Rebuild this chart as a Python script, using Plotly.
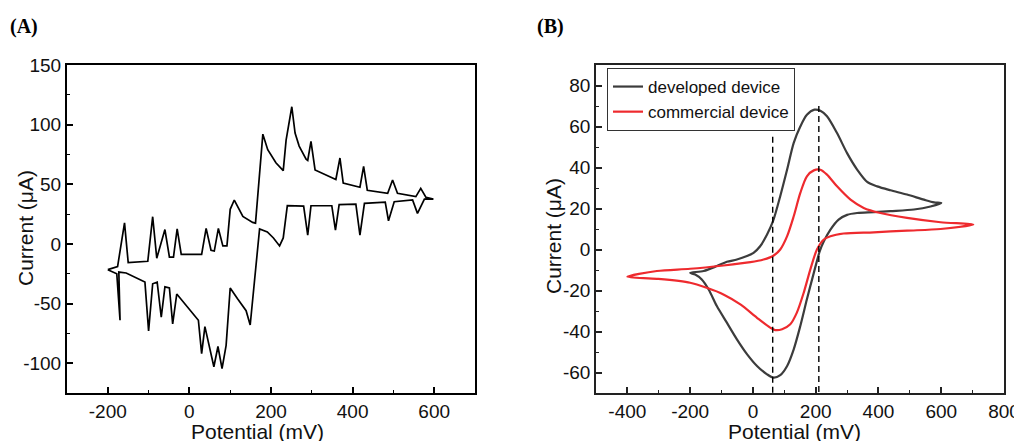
import plotly.graph_objects as go

# ---------------- Panel A data ----------------
a_potential = [-200, -176, -159, -150, -102, -90, -80, -60, -49, -39, -30, -20, 30, 41, 53, 61, 71, 82, 92,
               100, 110, 131, 155, 162, 180, 192, 212, 230, 237, 251, 259, 269, 286, 290, 298, 308, 359, 369,
               377, 418, 427, 436, 486, 498, 510, 555, 567, 580, 598,
               576, 559, 547, 502, 488, 480, 429, 418, 408, 367, 358, 349, 298, 290, 280, 240, 230, 221, 206,
               191, 172, 149, 139, 118, 100, 90, 80, 70, 60, 38, 30, 22, 16, 0, -16, -31, -41, -49, -60, -69,
               -79, -90, -100, -109, -155, -173, -170, -178, -200]
a_current = [-21.6, -19, 17.7, -15.7, -14.6, 22.8, -12, 12, -11, -11, 12.6, -8.7, -8.7, 13, -5.3, -6, 13, -1.7, -1.7,
             29, 36.8, 23, 18, 17.4, 92, 79, 68, 61.5, 87, 115, 93, 82, 71, 70, 86, 62, 54, 72,
             51, 47.5, 65, 45, 42.4, 53.6, 42.4, 39.6, 46.6, 39, 37.6,
             37.6, 25.6, 36.8, 35.4, 19.4, 35, 34, 7.3, 33.4, 33, 11.5, 32, 32, 7.3, 31.7, 32, 5, -1.7, 5,
             10, 12.6, -68, -56, -46, -37, -85, -104.5, -86, -103, -69.4, -92, -64, -61.5, -55, -49, -42, -67,
             -37, -36, -61.5, -32, -33.4, -73, -32, -24.4, -23.6, -64, -25, -21.6]

a_xticks = [-200, 0, 200, 400, 600]
a_xticklabels = ["-200", "0", "200", "400", "600"]
a_yticks = [-100, -50, 0, 50, 100, 150]
a_yticklabels = ["-100", "-50", "0", "50", "100", "150"]

# ---------------- Panel B data ----------------
dev_potential = [-200, -157, -115, -83, -51, -19, 2, 23, 45, 64, 87, 109, 130, 151, 172, 196, 215, 236, 268, 300,
                 332, 364, 396, 438, 491, 545, 577, 600,
                 566, 513, 438, 385, 332, 300, 273, 247, 226, 213, 194, 172, 151, 130, 109, 87, 66, 45, 13, -19,
                 -51, -83, -115, -141, -163, -184, -200]
dev_current = [-11.4, -10.5, -8.1, -6, -4.9, -3.2, -1.6, 1.6, 7.3, 13.8, 26, 39, 52, 60, 65.7, 68.2, 67.7, 65, 56.8,
               47, 39, 33, 30.8, 28.9, 26.8, 24.3, 23, 22.7,
               21, 19.5, 18.7, 18.2, 17.8, 16.9, 14.6, 9.7, 4, -0.8, -11.4, -24.3, -37.3, -48.7, -56.8, -61.3,
               -62.5, -60.9, -56.8, -51, -43.8, -35.7, -27.6, -19.5, -14.6, -12.2, -11.4]

com_potential = [-400, -306, -200, -94, -8, 34, 64, 87, 109, 130, 151, 172, 194, 215, 236, 268, 311, 353, 406,
                 491, 598, 702,
                 598, 491, 385, 289, 247, 226, 204, 183, 162, 140, 119, 93, 71, 55, 13, -40, -94, -147, -200,
                 -306, -400]
com_current = [-13.3, -10.5, -9.4, -7.8, -6.2, -4.9, -3.2, 0, 6.5, 16.2, 27.6, 35.7, 38.6, 38.9, 36.5, 30.8, 24.3,
               20.3, 17.8, 15.4, 13.3, 12.2,
               10, 9.2, 8.4, 7.8, 6.5, 4.9, 0, -9.7, -21, -30.8, -36.5, -38.9, -39.3, -38.1, -33.3, -26.8, -21.9,
               -18.7, -16.2, -14.3, -13.3]

peak_potentials = [63, 210]
peak_line_tops = [55, 70]
b_y_bottom = -70

b_xticks = [-400, -200, 0, 200, 400, 600, 800]
b_xticklabels = ["-400", "-200", "0", "200", "400", "600", "800"]
b_yticks = [-60, -40, -20, 0, 20, 40, 60, 80]
b_yticklabels = ["-60", "-40", "-20", "0", "20", "40", "60", "80"]

# page is drawn with an 8px body margin; place everything in reference pixel coordinates
W, H, OFF = 1022, 441, 8
def fx(px):
    return (px - OFF) / W
def fy(py):
    return 1 - (py - OFF) / H

fig = go.Figure()

fig.add_trace(go.Scatter(x=a_potential, y=a_current, mode="lines", line=dict(color="black", width=1.7),
                         showlegend=False, xaxis="x", yaxis="y"))

fig.add_trace(go.Scatter(x=dev_potential, y=dev_current, mode="lines", name="developed device",
                         line=dict(color="#3c3c3c", width=2.2, shape="spline", smoothing=0.8),
                         xaxis="x2", yaxis="y2"))
fig.add_trace(go.Scatter(x=com_potential, y=com_current, mode="lines", name="commercial device",
                         line=dict(color="#ee2a2e", width=2.2, shape="spline", smoothing=0.8),
                         xaxis="x2", yaxis="y2"))
for px, top in zip(peak_potentials, peak_line_tops):
    fig.add_trace(go.Scatter(x=[px, px], y=[top, b_y_bottom], mode="lines", showlegend=False,
                             line=dict(color="black", width=1.4, dash="6px,4px"),
                             xaxis="x2", yaxis="y2"))

FONT = "Liberation Sans, Arial"
tickfont = dict(family=FONT, size=19, color="#111")
titlefont = dict(family=FONT, size=21, color="#111")

def ax(domain, rng, tickvals, ticktext, minor_dtick, anchor, linecolor, lw):
    return dict(domain=domain, range=rng, tickmode="array", tickvals=tickvals, ticktext=ticktext,
                showgrid=False, zeroline=False,
                showline=True, mirror=True, linecolor=linecolor, linewidth=lw,
                ticks="inside", ticklen=6, tickwidth=1.5, tickcolor=linecolor,
                minor=dict(ticks="inside", ticklen=3, tickwidth=1.2, dtick=minor_dtick, tick0=0,
                           tickcolor=linecolor, showgrid=False),
                tickfont=tickfont, anchor=anchor, automargin=False)

ydom = [fy(393), fy(65)]
fig.update_layout(
    template="none",
    width=W, height=H,
    margin=dict(l=0, r=0, t=0, b=0),
    paper_bgcolor="white", plot_bgcolor="white",
    xaxis=ax([fx(67), fx(475)], [-300, 700], a_xticks, a_xticklabels, 100, "y", "black", 2),
    yaxis=ax(ydom, [-125, 150], a_yticks, a_yticklabels, 25, "x", "black", 2),
    xaxis2=ax([fx(596), fx(1004)], [-500, 800], b_xticks, b_xticklabels, 100, "y2", "#222", 1.6),
    yaxis2=ax(ydom, [-70, 90], b_yticks, b_yticklabels, 10, "x2", "#222", 1.6),
    legend=dict(x=fx(607), y=fy(68), xanchor="left", yanchor="top",
                bgcolor="white", bordercolor="#333", borderwidth=1,
                font=dict(family=FONT, size=17, color="#111"),
                tracegroupgap=0),
    annotations=[
        dict(text="<b>(A)</b>", x=fx(8), y=fy(26), xref="paper", yref="paper",
             xanchor="left", yanchor="middle", showarrow=False,
             font=dict(family="Liberation Serif, Times New Roman", size=20, color="black")),
        dict(text="<b>(B)</b>", x=fx(535), y=fy(26), xref="paper", yref="paper",
             xanchor="left", yanchor="middle", showarrow=False,
             font=dict(family="Liberation Serif, Times New Roman", size=20, color="black")),
        dict(text="Current (μA)", x=fx(25), y=fy(228), xref="paper", yref="paper", textangle=-90,
             xanchor="center", yanchor="middle", showarrow=False, font=titlefont),
        dict(text="Current (μA)", x=fx(553), y=fy(236), xref="paper", yref="paper", textangle=-90,
             xanchor="center", yanchor="middle", showarrow=False, font=titlefont),
        dict(text="Potential (mV)", x=fx(257), y=fy(418), xref="paper", yref="paper",
             xanchor="center", yanchor="top", showarrow=False, font=titlefont),
        dict(text="Potential (mV)", x=fx(794), y=fy(418), xref="paper", yref="paper",
             xanchor="center", yanchor="top", showarrow=False, font=titlefont),
    ],
)

fig.write_html("out.html")
